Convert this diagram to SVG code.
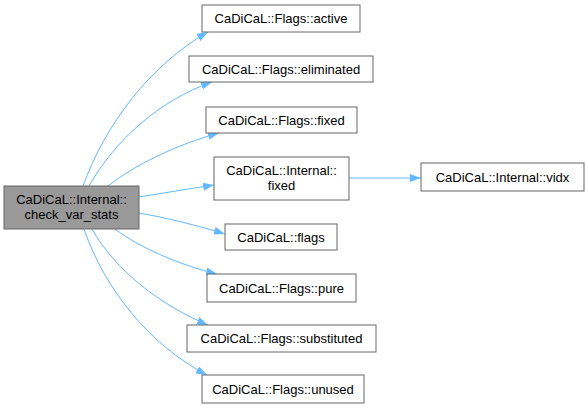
<svg xmlns="http://www.w3.org/2000/svg" width="587" height="408" viewBox="0 0 587 408">
<style>
.n rect{fill:#fff;stroke:#666;stroke-width:1}
.m rect{fill:#999;stroke:#666;stroke-width:1}
text{font-family:"Liberation Sans",Arial,sans-serif;font-size:13px;fill:#000;text-anchor:middle}
.e path{fill:none;stroke:#63b8ff;stroke-width:1;marker-end:url(#a)}
</style>
<defs>
<marker id="a" viewBox="0 0 11 8" refX="11" refY="4" markerWidth="11" markerHeight="8" markerUnits="userSpaceOnUse" orient="auto">
<path d="M0,0 L11,4 L0,8 Z" fill="#63b8ff"/>
</marker>
</defs>
<g class="e" id="edges">
<path d="M83,186 C105,125 150,65 208,32"/>
<path d="M89,186 C115,140 160,100 212,82"/>
<path d="M108,186 C135,165 175,145 219,133"/>
<path d="M139,197 C163,193 188,189 214,185"/>
<path d="M139,213 C167,218 196,225 225,234"/>
<path d="M115,229 C140,248 180,265 217,274"/>
<path d="M92,229 C115,270 160,305 208,325"/>
<path d="M84,229 C105,290 150,345 207,375"/>
<path d="M349,178 L421,178"/>
</g>
<g id="main" class="m"><rect x="4" y="186" width="135" height="43"/><text x="71.5" y="203.5">CaDiCaL::Internal::</text><text x="71.5" y="219">check_var_stats</text></g>
<g id="active" class="n"><rect x="202" y="5" width="158" height="27"/><text x="281" y="23">CaDiCaL::Flags::active</text></g>
<g id="eliminated" class="n"><rect x="189" y="56" width="184" height="26"/><text x="281" y="73.5">CaDiCaL::Flags::eliminated</text></g>
<g id="fixed" class="n"><rect x="206" y="107" width="151" height="26"/><text x="281.5" y="124.5">CaDiCaL::Flags::fixed</text></g>
<g id="ifixed" class="n"><rect x="214" y="157" width="135" height="43"/><text x="281.5" y="174.5">CaDiCaL::Internal::</text><text x="281.5" y="190">fixed</text></g>
<g id="flags" class="n"><rect x="225" y="224" width="112" height="26"/><text x="281" y="241.5">CaDiCaL::flags</text></g>
<g id="pure" class="n"><rect x="207" y="274" width="149" height="28"/><text x="281.5" y="292.5">CaDiCaL::Flags::pure</text></g>
<g id="substituted" class="n"><rect x="187" y="325" width="189" height="27"/><text x="281.5" y="343">CaDiCaL::Flags::substituted</text></g>
<g id="unused" class="n"><rect x="202" y="375" width="162" height="28"/><text x="283" y="393.5">CaDiCaL::Flags::unused</text></g>
<g id="vidx" class="n"><rect x="421" y="163" width="163" height="28"/><text x="502.5" y="181.5">CaDiCaL::Internal::vidx</text></g>
</svg>
